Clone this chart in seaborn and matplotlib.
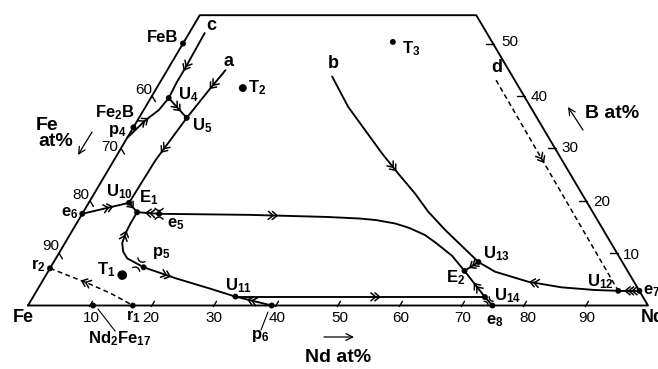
import numpy as np
import matplotlib
matplotlib.use("Agg")
import matplotlib.pyplot as plt
import seaborn as sns

# ---------------- data: compositions (Nd at%, B at%) ----------------
B_TOP = 55.4
frame_nd = [0, 100, 100 - B_TOP, 0, 0]
frame_b = [0, 0, B_TOP, B_TOP, 0]

c_nd = [2.9, 2.7, 2.7, 2.5]
c_b = [39.6, 42.5, 45.3, 52.0]
a_nd = [9.4, 8.7, 7.7, 6.7, 6.5]
a_b = [44.9, 41.5, 35.8, 27.7, 19.6]
p4U4_nd = [0.0, 1.3, 2.45, 2.9]
p4U4_b = [32.0, 35.4, 37.3, 39.6]
U4U5_nd = [2.9, 7.7]
U4U5_b = [39.6, 35.8]
e6U10_nd = [0.0, 6.5]
e6U10_b = [17.5, 19.6]
U10E1_nd = [6.5, 8.7]
U10E1_b = [19.6, 17.8]
e5E1_nd = [12.4, 8.7]
e5E1_b = [17.5, 17.8]
e5E2_nd = [12.4, 27.0, 39.7, 45.2, 48.0, 51.4, 54.1, 57.3, 59.9, 63.7, 67.1]
e5E2_b = [17.5, 17.3, 16.9, 16.6, 16.3, 15.65, 14.8, 13.45, 11.9, 9.45, 6.6]
E1p6_nd = [8.7, 8.7, 8.84, 9.25, 10.2, 11.5, 15.0, 21.2, 27.5, 32.6, 39.3]
E1p6_b = [17.8, 15.7, 13.8, 11.9, 10.3, 9.0, 7.3, 5.2, 3.3, 1.7, 0.0]
U11U14_nd = [32.6, 72.9]
U11U14_b = [1.65, 1.65]
bcur_nd = [27.2, 32.7, 37.6, 42.5, 47.1, 51.7, 55.6, 60.1, 68.5]
bcur_b = [43.7, 37.9, 33.5, 29.1, 25.2, 21.4, 17.9, 14.4, 8.3]
U13E2_nd = [68.5, 67.1]
U13E2_b = [8.3, 6.6]
U14E2_nd = [72.9, 67.1]
U14E2_b = [1.6, 6.6]
U14e8_nd = [72.9, 74.9]
U14e8_b = [1.6, 0.0]
U12U13_nd = [93.8, 89.9, 84.3, 78.4, 72.1, 68.5]
U12U13_b = [2.8, 2.96, 3.47, 4.54, 6.45, 8.3]
e7U12_nd = [97.2, 93.8]
e7U12_b = [2.8, 2.8]
d_nd = [54.0, 93.8]
d_b = [43.0, 2.8]
r2r1_nd = [0.0, 7.4, 12.0, 14.8, 16.9]
r2r1_b = [7.1, 4.3, 2.4, 1.05, 0.0]

dot_nd = [0, 0, 2.9, 7.7, 6.5, 8.7, 0, 12.4, 15.0, 32.6, 39.3, 16.9, 0, 10.5,
          67.1, 68.5, 72.9, 74.9, 93.8, 97.2]
dot_b = [50, 34.0, 39.6, 35.8, 19.6, 17.8, 17.5, 17.5, 7.3, 1.7, 0, 0, 7.1, 0,
         6.6, 8.3, 1.6, 0, 2.8, 2.8]
T_nd = [12.3, 13.9, 33.7]
T_b = [5.8, 41.5, 50.3]
T_size = [48, 32, 18]

nd_ticks = [10, 20, 30, 40, 50, 60, 70, 80, 90]
fe_ticks = [60, 70, 80, 90]
b_ticks = [10, 20, 30, 40, 50]

# ---------------- setup ----------------
sns.set_theme(style="white")
plt.rcParams["font.family"] = ["Liberation Sans", "DejaVu Sans"]
plt.rcParams["mathtext.fontset"] = "custom"
plt.rcParams["mathtext.rm"] = "Liberation Sans:bold"
plt.rcParams["mathtext.it"] = "Liberation Sans:bold"
plt.rcParams["mathtext.bf"] = "Liberation Sans:bold"

fig = plt.figure(figsize=(6.58, 3.69), dpi=100)
ax = fig.add_axes([0, 0, 1, 1])
XL = (-28 / 6.2, 630 / 6.2)
YL = ((305.5 - 369) / 5.24, 305.5 / 5.24)


def tern(nd, b):
    nd = np.asarray(nd, float)
    b = np.asarray(b, float)
    return nd + b / 2.0, b


def px(X, Y):
    # pixel position -> plot coordinates (for text placement only)
    return (X - 28) / 6.2, (305.5 - Y) / 5.24


LW = 1.35
solid = [(frame_nd, frame_b), (c_nd, c_b), (a_nd, a_b), (p4U4_nd, p4U4_b),
         (U4U5_nd, U4U5_b), (e6U10_nd, e6U10_b), (U10E1_nd, U10E1_b),
         (e5E1_nd, e5E1_b), (e5E2_nd, e5E2_b), (E1p6_nd, E1p6_b),
         (U11U14_nd, U11U14_b), (bcur_nd, bcur_b), (U13E2_nd, U13E2_b),
         (U14E2_nd, U14E2_b), (U14e8_nd, U14e8_b), (U12U13_nd, U12U13_b),
         (e7U12_nd, e7U12_b)]
for nd, b in solid:
    x, y = tern(nd, b)
    sns.lineplot(x=x, y=y, sort=False, estimator=None, color="black", lw=LW, ax=ax)
for nd, b in [(d_nd, d_b), (r2r1_nd, r2r1_b)]:
    x, y = tern(nd, b)
    sns.lineplot(x=x, y=y, sort=False, estimator=None, color="black", lw=1.1,
                 linestyle=(0, (3.2, 2.2)), ax=ax)

# edge ticks
for t in nd_ticks:
    x, y = tern([t, t], [-0.2, 0.8])
    ax.plot(x, y, color="black", lw=1.0)
for f in fe_ticks:
    bb = 100 - f
    x, y = tern([0, 1.1], [bb, bb - 1.1])
    ax.plot(x, y, color="black", lw=1.0)
for bb in b_ticks:
    x, y = tern([100 - bb - 1.2, 100 - bb + 0.1], [bb, bb])
    ax.plot(x, y, color="black", lw=1.0)

x, y = tern(dot_nd, dot_b)
sns.scatterplot(x=x, y=y, s=18, color="black", edgecolor="none", ax=ax, zorder=5)
x, y = tern(T_nd, T_b)
ax.scatter(x, y, s=T_size, color="black", edgecolor="none", zorder=5)

ax.set_xlim(*XL)
ax.set_ylim(*YL)
ax.axis("off")
fig.canvas.draw()


def _locate(nd, b, frac):
    P = ax.transData.transform(np.column_stack(tern(nd, b)))
    d = np.r_[0, np.cumsum(np.hypot(*np.diff(P, axis=0).T))]
    s = frac * d[-1]
    i = int(np.clip(np.searchsorted(d, s), 1, len(d) - 1))
    t = (s - d[i - 1]) / (d[i] - d[i - 1])
    p = P[i - 1] + t * (P[i] - P[i - 1])
    u = P[i] - P[i - 1]
    u = u / np.hypot(*u)
    return p, u


inv = ax.transData.inverted()


def chevrons(nd, b, frac, count=2, reverse=False, L=4.8, W=4.0, gap=4.0):
    p, u = _locate(nd, b, frac)
    if reverse:
        u = -u
    n = np.array([-u[1], u[0]])
    for k in range(count):
        tip = p + u * (k - (count - 1) / 2.0) * gap
        q = inv.transform(np.array([tip - L * u + W * n, tip, tip - L * u - W * n]))
        ax.plot(q[:, 0], q[:, 1], color="black", lw=1.1)


def saddle(nd, b, frac, hw=4.0, dist=5.5, bulge=2.2):
    p, u = _locate(nd, b, frac)
    n = np.array([-u[1], u[0]])
    tt = np.linspace(-1, 1, 15)
    for s in (1, -1):
        pts = p[None, :] + np.outer(tt * hw, u) + np.outer(s * (dist - bulge * (1 - tt ** 2)), n)
        q = inv.transform(pts)
        ax.plot(q[:, 0], q[:, 1], color="black", lw=1.0)


chevrons(c_nd, c_b, 0.46, 2, reverse=True)
chevrons(a_nd, a_b, 0.13, 2)
chevrons(a_nd, a_b, 0.62, 2)
chevrons(p4U4_nd, p4U4_b, 0.45, 2)
chevrons(U4U5_nd, U4U5_b, 0.55, 2)
chevrons(e6U10_nd, e6U10_b, 0.6, 2)
chevrons(U10E1_nd, U10E1_b, 0.5, 1)
chevrons(e5E1_nd, e5E1_b, 0.5, 2)
chevrons(e5E2_nd, e5E2_b, 0.36, 2)
chevrons(E1p6_nd, E1p6_b, 0.12, 2, reverse=True)
chevrons(E1p6_nd, E1p6_b, 0.47, 2)
chevrons(E1p6_nd, E1p6_b, 0.89, 2, reverse=True)
chevrons(U11U14_nd, U11U14_b, 0.57, 2)
chevrons(bcur_nd, bcur_b, 0.47, 2)
chevrons(U13E2_nd, U13E2_b, 0.5, 2, gap=3.5)
chevrons(U14E2_nd, U14E2_b, 0.45, 2)
chevrons(U12U13_nd, U12U13_b, 0.6, 2)
chevrons(e7U12_nd, e7U12_b, 0.5, 3, gap=3.5)
chevrons(d_nd, d_b, 0.38, 2)
chevrons(r2r1_nd, r2r1_b, 0.4, 2, reverse=True)
saddle(e5E2_nd, e5E2_b, 0.0)
saddle(E1p6_nd, E1p6_b, 0.315)
saddle(U14e8_nd, U14e8_b, 0.5, hw=3.0, dist=3.5, bulge=1.5)

# ---------------- text ----------------
def lab(s, X, Y, size=12, ha="center", weight="bold"):
    x, y = px(X, Y)
    ax.text(x, y, s, ha=ha, va="center", fontsize=size, fontweight=weight, color="black")


lab("FeB", 163, 38)
lab("c", 211, 26, 13)
lab("a", 228, 61, 13)
lab("T$_2$", 248, 88, ha="left")
lab("U$_4$", 178, 95, ha="left")
lab("U$_5$", 192, 126, ha="left")
lab("Fe$_2$B", 115, 113)
lab("p$_4$", 117, 131)
lab("U$_{10}$", 119, 192)
lab("E$_1$", 149, 198)
lab("e$_6$", 70, 213)
lab("e$_5$", 176, 224)
lab("r$_2$", 38, 266)
lab("T$_1$", 106, 270)
lab("p$_5$", 161, 253)
lab("U$_{11}$", 238, 286)
lab("Fe", 23, 317, 13)
lab("r$_1$", 133, 317)
lab("Nd$_2$Fe$_{17}$", 120, 339)
lab("p$_6$", 260, 336)
lab("e$_8$", 495, 321)
lab("U$_{14}$", 494, 296, ha="left")
lab("E$_2$", 456, 278)
lab("U$_{13}$", 483, 254, ha="left")
lab("U$_{12}$", 600, 282)
lab("e$_7$", 643, 291, ha="left")
lab("Nd", 641, 317, 13, ha="left")
lab("d", 497, 68, 13)
lab("b", 333, 64, 13)
lab("T$_3$", 402, 49, ha="left")

lab("Fe", 47, 125, 14)
lab("at%", 56, 142, 14)
lab("B at%", 585, 114, 14, ha="left")
lab("Nd at%", 305, 357, 14, ha="left")

for t, X in zip(nd_ticks, [91, 151, 214, 277, 340, 401, 463, 528, 587]):
    lab(str(t), X, 318, 11, weight="normal")
for f, (X, Y) in zip(fe_ticks, [(144, 90), (110, 147), (81, 195), (51, 246)]):
    lab(str(f), X, Y, 11, weight="normal")
for bb, (X, Y) in zip(b_ticks, [(623, 255), (593, 202), (561, 148), (531, 97), (501, 42)]):
    lab(str(bb), X, Y, 11, ha="left", weight="normal")

arrow = dict(arrowstyle="->", lw=0.9, color="black", shrinkA=0, shrinkB=0)
ax.annotate("", xy=px(78, 155), xytext=px(92, 132), arrowprops=arrow)
ax.annotate("", xy=px(568, 107), xytext=px(583, 130), arrowprops=arrow)
ax.annotate("", xy=px(354, 337), xytext=px(324, 337), arrowprops=arrow)

for (X0, Y0), (X1, Y1) in [((98, 309), (115, 331)), ((268, 312), (261, 330))]:
    a0, b0 = px(X0, Y0)
    a1, b1 = px(X1, Y1)
    ax.plot([a0, a1], [b0, b1], color="black", lw=0.8)

ax.set_xlim(*XL)
ax.set_ylim(*YL)
fig.savefig("out.png", dpi=100, facecolor="white")
